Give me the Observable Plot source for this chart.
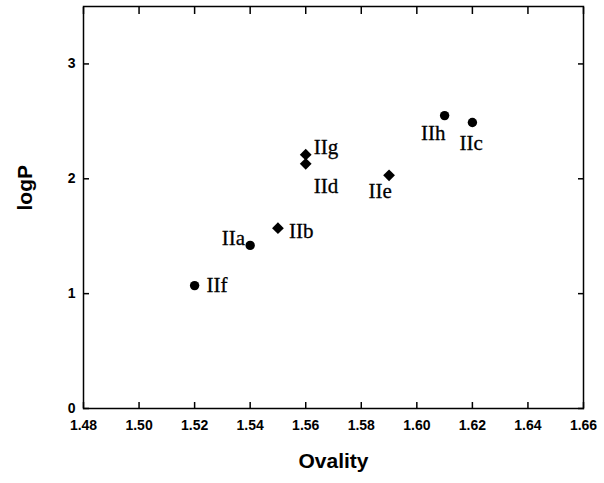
<!DOCTYPE html>
<html><head><meta charset="utf-8">
<script src="https://cdn.jsdelivr.net/npm/d3@7"></script>
<script src="https://cdn.jsdelivr.net/npm/@observablehq/plot@0.6"></script>
<style>
body{margin:0;background:#fff}
#chart{width:604px;height:483px}
</style>
</head><body><div id="chart"></div>
<script>
const compounds = ["IIa","IIb","IIc","IId","IIe","IIf","IIg","IIh"];
const ovality   = [1.54, 1.55, 1.62, 1.56, 1.59, 1.52, 1.56, 1.61];
const logP      = [1.42, 1.57, 2.49, 2.13, 2.03, 1.07, 2.21, 2.55];
const group     = ["A",  "B",  "A",  "B",  "B",  "A",  "B",  "A"];
const xTicks = [1.48,1.50,1.52,1.54,1.56,1.58,1.60,1.62,1.64,1.66];
const yTicks = [0,1,2,3];
const xTitle = "Ovality";
const yTitle = "logP";

const rows = compounds.map((c,i)=>({name:c, x:ovality[i], y:logP[i], g:group[i]}));

// label placement styles (anchor, dx, dy)
const labelStyle = {
  IIa:["end",-5,-7], IIb:["start",11,3], IIc:["start",-13,21], IId:["start",8,22],
  IIe:["middle",-9,16], IIf:["start",12,0], IIg:["start",8,-7], IIh:["end",1,18]
};

const labelMarks = rows.map(r => {
  const [a,dx,dy] = labelStyle[r.name];
  return Plot.text([r], {x:"x", y:"y", text:"name", textAnchor:a, dx, dy,
    fontFamily:"Liberation Serif", fontSize:21, fill:"black", stroke:"black", strokeWidth:0.3});
});

const tickFont = {fontFamily:"Liberation Sans", fontSize:14, fontWeight:"bold"};

const chart = Plot.plot({
  width:604, height:483,
  marginLeft:83, marginRight:21, marginTop:6, marginBottom:75,
  style:{background:"#fff", color:"black"},
  x:{domain:[1.48,1.66]},
  y:{domain:[0,3.5]},
  symbol:{domain:["A","B"], range:["circle","diamond2"]},
  marks:[
    Plot.axisX(xTicks, {anchor:"bottom", tickSize:-6, tickPadding:18, strokeWidth:1.5,
      tickFormat:d3.format(".2f"), label:null, ...tickFont}),
    Plot.axisX(xTicks, {anchor:"top", tickSize:-7, strokeWidth:1.5, tickFormat:()=>"", label:null}),
    Plot.axisY(yTicks, {anchor:"left", tickSize:-6, tickPadding:14, strokeWidth:1.5,
      tickFormat:d3.format("d"), label:null, ...tickFont}),
    Plot.axisY(yTicks, {anchor:"right", tickSize:-6, strokeWidth:1.5, tickFormat:()=>"", label:null}),
    Plot.frame({stroke:"black", strokeWidth:1.5}),
    Plot.dot(rows.filter(d=>d.g==="A"), {x:"x", y:"y", symbol:"g", r:4.7, fill:"black", stroke:"none"}),
    Plot.dot(rows.filter(d=>d.g==="B"), {x:"x", y:"y", symbol:"g", r:5.3, fill:"black", stroke:"none"}),
    ...labelMarks,
    Plot.text([xTitle], {frameAnchor:"bottom", dy:59, text:d=>d,
      fontFamily:"Liberation Sans", fontWeight:"bold", fontSize:21}),
    Plot.text([yTitle], {frameAnchor:"left", dx:-58, dy:3, rotate:-90, text:d=>d,
      fontFamily:"Liberation Sans", fontWeight:"bold", fontSize:21})
  ]
});
document.getElementById("chart").appendChild(chart);
</script>
</body></html>
